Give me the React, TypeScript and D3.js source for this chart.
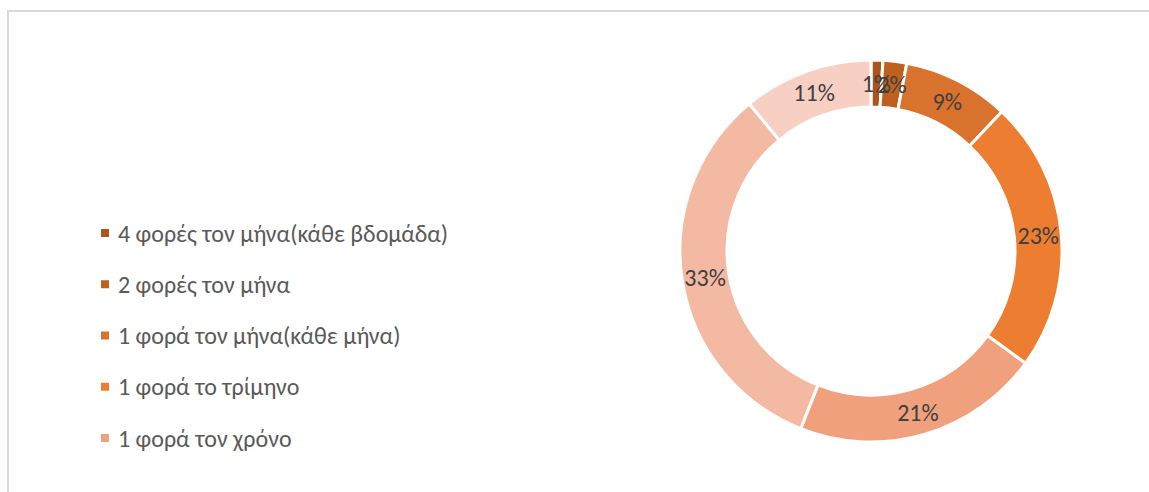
import React from "react";
import * as d3 from "d3";

const categories = [
  "4 φορές τον μήνα(κάθε βδομάδα)",
  "2 φορές τον μήνα",
  "1 φορά τον μήνα(κάθε μήνα)",
  "1 φορά το τρίμηνο",
  "1 φορά τον χρόνο",
  "Κατηγορία 6",
  "Κατηγορία 7",
];
const values = [1, 2, 9, 23, 21, 33, 11];
const colors = ["#A9561E", "#C0601F", "#D9722D", "#ED7D31", "#F0A07C", "#F4B9A2", "#F8CFC3"];
const legendCount = 5;

export default function App() {
  const W = 1149, H = 492;
  const cx = 871, cy = 251, outerR = 191, innerR = 144;
  const pie = d3.pie<number>().sort(null).value((d) => d)(values);
  const arc = d3.arc<d3.PieArcDatum<number>>().innerRadius(innerR).outerRadius(outerR);
  const labelArc = d3.arc<d3.PieArcDatum<number>>().innerRadius(168).outerRadius(168);
  const total = d3.sum(values);
  const legendY = d3.scalePoint<number>().domain(d3.range(legendCount)).range([233, 438]);
  const font = "Carlito, Calibri, Lato, sans-serif";
  return (
    <svg width={W} height={H} style={{ position: "absolute", left: 0, top: 0, background: "#fff" }}>
      <rect x={8} y={11} width={W + 20} height={H + 20} fill="#fff" stroke="#d9d9d9" strokeWidth={2} />
      <g transform={`translate(${cx},${cy})`}>
        {pie.map((p, i) => (
          <path key={i} d={arc(p) || ""} fill={colors[i]} stroke="#fff" strokeWidth={3} />
        ))}
        {pie.map((p, i) => {
          const [x, y] = labelArc.centroid(p);
          return (
            <text key={i} x={x} y={y} textAnchor="middle" dominantBaseline="central"
              fontFamily={font} fontSize={24} fill="#404040">
              {Math.round((values[i] / total) * 100)}%
            </text>
          );
        })}
      </g>
      <g>
        {d3.range(legendCount).map((i) => (
          <g key={i} transform={`translate(101,${legendY(i)})`}>
            <rect x={0} y={-4} width={8} height={8} fill={colors[i]} />
            <text x={17} y={0} dominantBaseline="central" fontFamily={font} fontSize={24} fill="#595959">
              {categories[i]}
            </text>
          </g>
        ))}
      </g>
    </svg>
  );
}
